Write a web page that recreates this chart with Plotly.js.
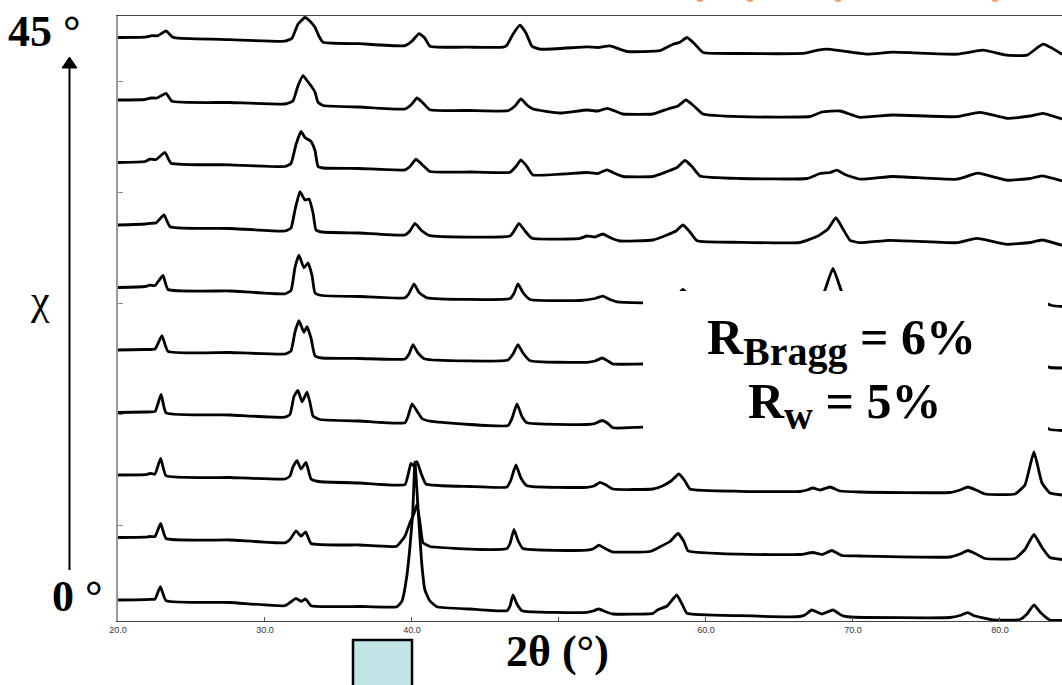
<!DOCTYPE html>
<html>
<head>
<meta charset="utf-8">
<script src="https://cdn.plot.ly/plotly-3.0.1.min.js"></script>
<style>
html,body{margin:0;padding:0;background:#fff;}
#chart{width:1062px;height:685px;}
</style>
</head>
<body>
<div id="chart"></div>
<script>
// Diffraction patterns recorded at tilt angles chi = 45° (top) down to 0° (bottom).
// 2θ in degrees; intensity in arbitrary units, relative to the start of each pattern.
const tth_chi45 = [20.00,21.84,22.31,22.72,23.27,23.67,24.08,27.62,31.36,31.84,32.24,32.72,33.06,33.40,33.67,33.95,36.46,39.52,40.00,40.48,40.88,41.22,43.95,46.19,46.46,46.87,47.35,47.76,48.16,48.71,51.90,52.65,53.47,54.63,56.87,57.76,58.23,58.71,59.25,59.80,62.31,66.73,67.62,68.23,69.12,70.95,72.72,77.07,78.84,80.48,81.84,82.93,84.22];
const int_chi45 = [0,0.3,1.8,1.8,6.6,0.8,-0.7,-2.2,-3.7,-0.7,13.3,20,16.3,10.3,1.3,-4.7,-6.2,-8.2,-3.7,3.8,-0.7,-8.7,-9.7,-9.7,-7.7,3.3,12.3,4.3,-8.7,-11.7,-9.4,-10,-8.4,-14,-13.2,-6.7,-4.7,0,-6.7,-15,-16,-15.7,-12.7,-11.7,-13.2,-16.7,-14.7,-16.7,-12.7,-17.7,-17.7,-6.7,-16.7];

const tth_chi40 = [20.00,21.84,22.24,22.65,23.27,23.67,27.62,31.36,31.90,32.24,32.59,32.93,33.13,33.40,33.61,33.95,36.46,39.52,39.93,40.34,40.75,41.22,43.95,46.53,47.01,47.41,47.82,48.23,50.07,51.90,52.65,53.27,53.81,54.35,56.39,57.41,58.10,58.64,59.18,59.80,62.31,67.07,67.89,69.12,70.48,72.72,77.07,78.64,80.48,82.04,82.93,84.22];
const int_chi40 = [0,0.5,2,2,6.7,-1.3,-2.5,-4,-1,14,24.3,18,14.3,8,-2.3,-5.5,-7,-9,-5,2,-3,-9.7,-10.5,-10.7,-6,1,-5,-9,-13,-10,-11,-8.3,-11,-14,-14,-9,-6,0,-6,-14,-16.7,-16.5,-12,-11,-17.3,-15,-16.7,-12.3,-18.3,-16,-13.3,-19];

const tth_chi35 = [20.00,21.84,22.18,22.59,23.20,23.61,27.62,31.36,31.77,32.11,32.45,32.72,33.13,33.40,33.61,33.95,36.46,39.52,39.86,40.27,40.68,41.22,43.95,46.67,47.07,47.41,47.82,48.23,51.90,52.65,53.27,53.81,54.35,56.39,57.35,58.03,58.57,59.05,59.59,62.31,66.87,67.76,68.44,68.91,69.46,70.48,72.72,77.07,78.50,80.48,82.04,82.86,84.22];
const int_chi35 = [0,1,3.3,3,10,-0.7,-2.3,-4,-1,18,31,25,21,12,-4,-5.5,-6,-7.4,-4,3.3,-2,-9,-9.5,-9.7,-4,2.6,-4,-12.4,-10,-11,-7.4,-11,-14,-14,-9,-5,2,-4,-13.4,-16,-16,-11,-10,-7.7,-12,-16.7,-14,-16.7,-10.7,-17.7,-16,-13.4,-18.4];

const tth_chi30 = [20.00,21.84,22.18,22.59,23.13,23.54,27.62,31.36,31.77,32.04,32.38,32.72,32.99,33.27,33.47,33.88,36.46,39.52,39.86,40.20,40.61,41.22,46.67,46.94,47.28,47.69,48.16,51.43,51.90,52.45,52.99,53.54,54.15,56.39,57.35,57.96,58.44,58.91,59.39,62.31,66.39,67.62,68.30,68.84,69.32,69.80,70.48,72.52,77.07,78.43,80.48,82.04,82.86,84.22];
const int_chi30 = [0,1,1.7,2,10,-1.7,-3.5,-6,-3,15,33.3,25,26,12,-5,-7,-8,-10,-6,1.7,-5,-10.7,-11,-6,1.7,-6,-13.3,-13.3,-11,-12,-9,-13,-16,-15,-10,-6,0,-7,-15.7,-17.3,-17.5,-11,-4,7.3,-4,-15.3,-17.7,-15.3,-17.7,-13.3,-19.3,-17.5,-15,-20.3];

const tth_chi25 = [20.00,21.84,22.18,22.52,23.06,23.40,27.62,31.36,31.77,32.04,32.31,32.65,32.93,33.20,33.40,33.88,36.46,39.52,39.80,40.14,40.48,41.02,46.67,46.94,47.21,47.55,48.03,51.43,52.45,52.99,53.47,53.95,55.65,56.87,57.55,58.03,58.44,58.91,59.39,62.31,66.39,67.62,68.03,68.64,69.25,69.66,70.48,72.52,77.07,78.43,80.48,82.04,82.86,83.54,84.22];
const int_chi25 = [0,1,2.3,2,12,-2,-3.5,-6.3,-3,20,32.3,19.7,24.7,12,-5.3,-8,-9,-10.3,-6,3.7,-5,-10.3,-11,-6,3.7,-5,-12,-13,-11,-8.7,-12,-14.3,-15.3,-15.5,-12,-8,-2,-10,-16,-17.5,-18,-14,-5,19,-5,-14,-18,-16,-18,-14,-20,-18.5,-15,-18,-19];

const tth_chi20 = [20.00,21.84,22.52,22.99,23.40,27.62,31.36,31.77,32.04,32.31,32.65,32.86,33.13,33.40,33.88,36.46,39.52,39.80,40.07,40.41,40.88,46.53,46.87,47.21,47.55,48.03,51.90,52.45,52.93,53.33,53.67,55.65,56.87,57.55,58.03,58.44,58.91,59.39,62.31,66.39,67.62,68.30,68.78,69.25,69.80,70.48,72.52,77.07,78.43,80.48,82.04,82.86,83.40,84.22];
const int_chi20 = [0,0.5,1,14.3,-1.3,-2.5,-4,-1,18,29.3,17.7,23.3,12,-5.7,-8,-8.5,-9,-4,5.3,-3,-9,-10,-4,5.3,-3,-10.7,-12.3,-11,-8,-11,-14,-14,-14.5,-11,-6,0,-8,-15,-16.5,-17,-12,-5,4,-5,-15,-17,-15,-17,-13,-19,-17.5,-15,-17.5,-18];

const tth_chi15 = [20.00,21.84,22.52,22.93,23.27,27.62,31.36,31.70,31.97,32.24,32.52,32.86,33.06,33.27,33.74,36.46,39.52,39.73,40.00,40.41,40.68,41.22,46.53,46.80,47.14,47.48,47.82,51.90,52.45,52.93,53.33,53.67,55.65,56.87,57.55,58.03,58.44,58.91,59.39,62.31,66.39,67.76,68.30,68.98,70.48,77.28,78.30,80.48,81.70,82.38,83.06,83.40,84.22];
const int_chi15 = [0,0.5,1,18,-0.3,-2.5,-4.7,-2,16,22,10.7,20.3,10,-3.7,-7,-8.5,-10.3,-4,8.7,-0.3,-6,-8.7,-13,-6,8.7,-4,-10.3,-12,-11,-8,-11,-15.3,-14.7,-15,-12,-6,0,-8,-15,-16,-16.5,-14,-12,-15,-16.5,-17,-15,-18,-17.5,-6,-14,-17,-18];

const tth_chi10 = [20.00,21.84,22.18,22.52,22.90,23.27,27.62,31.36,31.70,31.90,32.18,32.45,32.79,33.13,33.61,36.46,39.52,39.73,39.93,40.14,40.34,40.61,40.95,43.95,46.46,46.73,47.07,47.41,47.82,51.90,52.38,52.79,53.20,53.67,56.39,57.07,57.62,58.16,58.57,58.91,62.31,66.39,66.87,67.28,67.76,68.44,69.12,70.48,76.60,77.28,77.82,78.37,78.98,81.02,81.70,82.31,82.86,83.40,84.22];
const int_chi10 = [0,0.3,1.5,1,16.7,-0.7,-2.5,-4,-1,8,14.3,6,12.7,-4,-6.5,-8,-9.7,0,11.7,9,13.3,2,-9,-11.5,-12,-5,10,-3,-10.7,-12.3,-11,-7.3,-10,-14,-14,-10.7,-6,1,-6,-14,-16.3,-16.5,-15,-13,-15,-12,-16,-17,-17.5,-15,-12,-15,-19,-19,-10,23,-8,-18,-20];

const tth_chi5 = [20.00,21.84,22.18,22.52,22.90,23.27,27.62,31.36,31.70,32.11,32.45,32.77,33.13,36.46,38.96,39.52,39.86,40.14,40.34,40.54,40.75,41.22,44.63,46.46,46.67,46.94,47.21,47.55,51.90,52.38,52.72,53.13,53.61,56.19,56.87,57.55,58.10,58.50,58.78,62.31,66.39,67.28,67.89,68.57,69.25,70.48,76.60,77.28,77.82,78.37,78.98,81.02,81.70,82.31,82.86,83.40,84.22];
const int_chi5 = [0,0.3,1,1,14,-1,-2.5,-5.3,-2,6.7,1.3,5.7,-6,-7.5,-8.7,1.3,14.7,24,33,15,-5.3,-9,-12,-11,-6,8,-3,-11,-12.7,-11,-7.7,-11,-14.3,-14,-9.3,-4,4,-4,-13.3,-16.7,-17,-15,-17,-13,-18,-18.5,-19.5,-16.5,-13,-16.5,-21,-21,-12,3,-10,-20,-22];

const tth_chi0 = [20.00,21.84,22.18,22.52,22.88,23.27,27.62,31.36,31.70,32.11,32.45,32.77,33.13,36.46,38.98,39.32,39.64,39.86,40.05,40.20,40.43,40.66,40.88,41.22,41.70,43.95,46.46,46.67,46.87,47.14,47.48,51.90,52.31,52.72,53.13,53.67,56.39,56.73,57.35,58.01,58.37,58.71,62.31,66.39,66.73,67.19,67.89,68.64,69.25,69.80,76.60,77.28,77.80,78.30,79.59,81.36,81.84,82.31,82.79,83.40,84.22];
const int_chi0 = [0,0.3,0.7,1,13.3,-0.7,-2.5,-5.7,-2.5,1.7,-1.3,1,-5.7,-6.5,-6.7,-1,23,53,87,138,87,37,10,-1,-6.7,-9,-10.7,-6,5,-4,-10.7,-12.3,-11,-9,-11.5,-14,-13.3,-9.7,-6,5,-4,-13.3,-15.7,-16.5,-15,-10,-14,-10,-15.5,-17,-17.5,-15.5,-12.7,-16,-20,-19.5,-14,-5,-13,-20,-20.5];

// bottom to top
const patterns = [
  [tth_chi0, int_chi0], [tth_chi5, int_chi5], [tth_chi10, int_chi10], [tth_chi15, int_chi15],
  [tth_chi20, int_chi20], [tth_chi25, int_chi25], [tth_chi30, int_chi30], [tth_chi35, int_chi35],
  [tth_chi40, int_chi40], [tth_chi45, int_chi45]
];
const chiLabels = ["0","5","10","15","20","25","30","35","40","45"];

const tickValues = [20, 30, 40, 60, 70, 80];
const tickLabels = ["20.0", "30.0", "40.0", "60.0", "70.0", "80.0"];
const unlabelledTicks = [50];

// vertical stacking of the patterns
const firstOffset = 21, offsetStep = 62.5;

const traces = patterns.map(([x, y], k) => ({
  type: 'scatter', mode: 'lines',
  x: x,
  y: y.map(v => v + firstOffset + k * offsetStep),
  name: 'χ = ' + chiLabels[k] + '°',
  line: {color: '#000', width: 2.8, shape: 'spline', smoothing: 0.4},
  hoverinfo: 'skip'
}));

// page-pixel helpers for decorations placed around the plot area
const L = 118, T = 16, PW = 944, PH = 605;
const px = x => (x - L) / PW;
const py = y => (T + PH - y) / PH;

const serif = 'Liberation Serif, Times New Roman, serif';

const layout = {
  width: 1062, height: 685,
  margin: {l: L, r: 0, t: T, b: 685 - T - PH, pad: 0},
  paper_bgcolor: '#fff', plot_bgcolor: '#fff',
  showlegend: false,
  xaxis: {
    range: [20, 84.22],
    tickmode: 'array', tickvals: tickValues, ticktext: tickLabels,
    ticks: 'inside', ticklen: 4, tickwidth: 1, tickcolor: '#555',
    minor: {tickmode: 'array', tickvals: unlabelledTicks, ticks: 'inside', ticklen: 4, tickwidth: 1, tickcolor: '#555', showgrid: false},
    showline: true, linecolor: '#444', linewidth: 1.2, mirror: true,
    showgrid: false, zeroline: false,
    tickfont: {family: 'Liberation Sans, Arial, sans-serif', size: 9, color: '#333'}
  },
  yaxis: {
    range: [0, 605], tick0: 96, dtick: 111,
    ticks: 'inside', ticklen: 5, tickwidth: 1, tickcolor: '#888',
    showticklabels: false,
    showline: true, linecolor: '#999', linewidth: 2,
    showgrid: false, zeroline: false
  },
  shapes: [
    // panel holding the refinement figures of merit
    {type: 'rect', xref: 'paper', yref: 'paper', x0: px(643), x1: px(1048), y0: py(440), y1: py(291),
     fillcolor: '#fff', line: {width: 0}, layer: 'above'},
    // chi arrow
    {type: 'line', xref: 'paper', yref: 'paper', x0: px(69.5), x1: px(69.5), y0: py(570), y1: py(66),
     line: {color: '#000', width: 2}},
    {type: 'path', xref: 'paper', yref: 'paper',
     path: `M ${px(62)} ${py(68)} L ${px(77)} ${py(68)} L ${px(69.5)} ${py(57)} Z`,
     fillcolor: '#000', line: {color: '#000', width: 1}},
    // small cyan box under the axis
    {type: 'rect', xref: 'paper', yref: 'paper', x0: px(353), x1: px(412), y0: py(692), y1: py(640),
     fillcolor: '#c4e5e8', line: {color: '#000', width: 2.5}},
    // orange marks along the top edge
    ...[700, 750, 838, 995].map(c => ({
      type: 'circle', xref: 'paper', yref: 'paper',
      x0: px(c - 3.5), x1: px(c + 3.5), y0: py(2), y1: py(-3),
      fillcolor: '#f4a072', line: {width: 0}
    }))
  ],
  annotations: [
    {xref: 'paper', yref: 'paper', x: px(6), y: py(31), xanchor: 'left', yanchor: 'middle', showarrow: false,
     text: '<b>45 °</b>', font: {family: serif, size: 44, color: '#000'}},
    {xref: 'paper', yref: 'paper', x: px(50), y: py(596), xanchor: 'left', yanchor: 'middle', showarrow: false,
     text: '<b>0 °</b>', font: {family: serif, size: 44, color: '#000'}},
    {xref: 'paper', yref: 'paper', x: px(40), y: py(300), xanchor: 'center', yanchor: 'middle', showarrow: false,
     text: 'χ', font: {family: serif, size: 42, color: '#000'}},
    {xref: 'paper', yref: 'paper', x: px(504), y: py(651), xanchor: 'left', yanchor: 'middle', showarrow: false,
     text: '<b>2θ (°)</b>', font: {family: serif, size: 44, color: '#000'}},
    {xref: 'paper', yref: 'paper', x: px(705), y: py(342), xanchor: 'left', yanchor: 'middle', showarrow: false,
     text: '<b>R<sub><span style="font-size:40px">Bragg</span></sub> = 6%</b>', font: {family: serif, size: 50, color: '#000'}},
    {xref: 'paper', yref: 'paper', x: px(746), y: py(405), xanchor: 'left', yanchor: 'middle', showarrow: false,
     text: '<b>R<sub><span style="font-size:40px">w</span></sub> = 5%</b>', font: {family: serif, size: 50, color: '#000'}}
  ]
};

Plotly.newPlot('chart', traces, layout, {displayModeBar: false, staticPlot: true});
</script>
</body>
</html>
